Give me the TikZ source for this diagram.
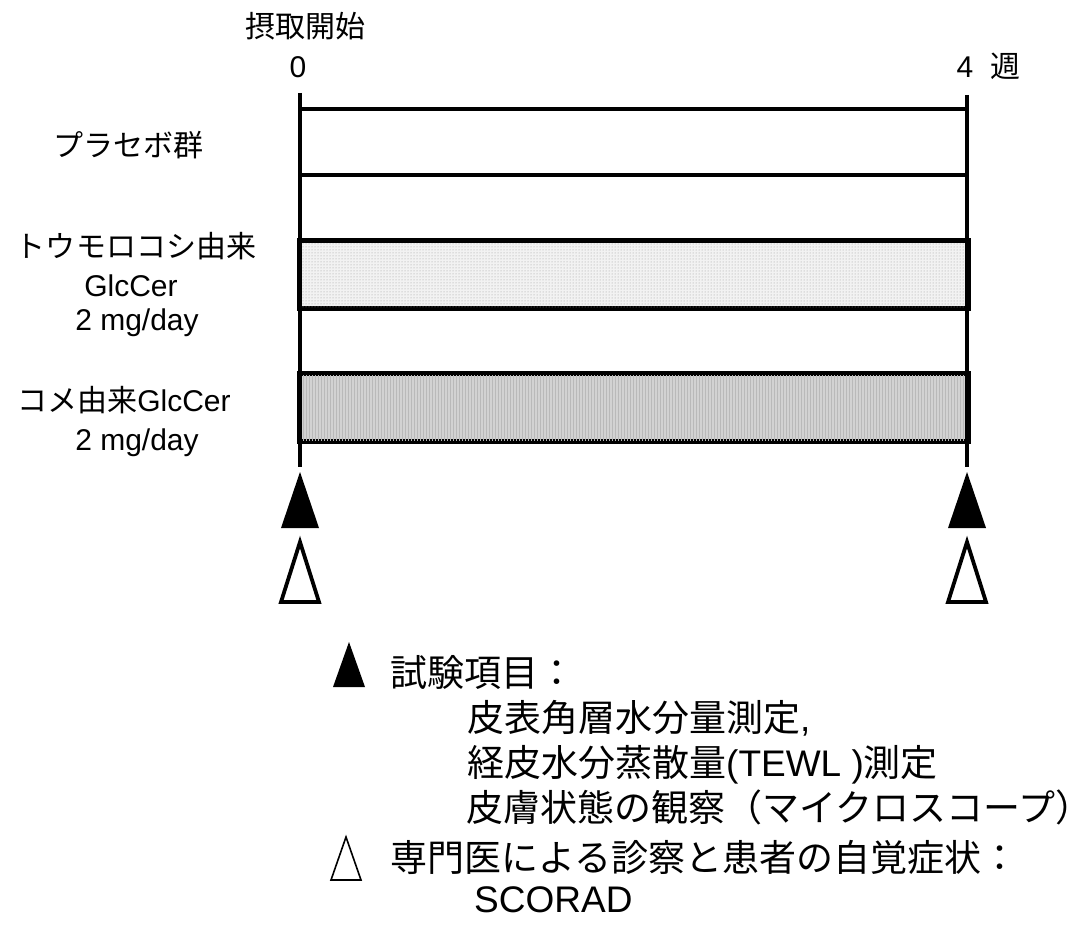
\documentclass[tikz,border=0pt]{standalone}
\usepackage{fontspec}
\setmainfont{Liberation Sans}
\newfontfamily\jpfont{Noto Sans CJK JP}
\newcommand\jtext[1]{{\jpfont #1}}
\usetikzlibrary{patterns}
\begin{document}
\begin{tikzpicture}[x=1pt,y=-1pt,
  lbl/.style={font=\fontsize{30}{37}\selectfont, inner sep=0pt, anchor=base},
  leg/.style={font=\fontsize{37}{44}\selectfont, inner sep=0pt, anchor=base west},
  barbox/.style={draw=black, line width=3.5pt, minimum width=667pt, minimum height=66pt, inner sep=0pt},
  timeline/.style={line width=4pt},
  filltri/.style={fill=black},
  opentri/.style={draw=black, line width=3.8pt, fill=white, line join=miter},
  legopen/.style={draw=black, line width=1.6pt, fill=white}]
\useasboundingbox (0,0) rectangle (1091,931);
% bars
\node[barbox, fill=white] (placebo) at (633.5,142) {};
\node[barbox, fill=gray!10] (corn) at (633.5,274.5) {};
\fill[pattern=dots, pattern color=gray!80] (corn.south west) rectangle (corn.north east);
\node[barbox, fill=gray!35] (rice) at (633.5,407.5) {};
\fill[pattern=vertical lines, pattern color=gray!55] (rice.south west) rectangle (rice.north east);
\draw[line width=3.5pt] (corn.north west) rectangle (corn.south east);
\draw[line width=3.5pt] (rice.north west) rectangle (rice.south east);
% time lines
\coordinate (s0) at (300,93);
\coordinate (e0) at (300,467);
\coordinate (s4) at (967,95);
\coordinate (e4) at (967,467);
\draw[timeline] (s0) -- (e0);
\draw[timeline] (s4) -- (e4);
% triangles on the time lines
\fill[filltri] (300,472) -- (281,528) -- (319,528) -- cycle;
\fill[filltri] (967,472) -- (948,528) -- (986,528) -- cycle;
\draw[opentri] (300,542) -- (281,602) -- (319,602) -- cycle;
\draw[opentri] (967,542) -- (948,602) -- (986,602) -- cycle;
% top labels
\node[lbl] (start) at (305,38) {\jtext{摂取開始}};
\node[lbl] (w0) at (298,78) {0};
\node[lbl] (w4) at (965,78) {4};
\node[lbl] (wk) at (1005,78) {\jtext{週}};
% group labels
\node[lbl] (gp) at (128,156) {\jtext{プラセボ群}};
\node[lbl] (gc1) at (136,257) {\jtext{トウモロコシ由来}};
\node[lbl] (gc2) at (131,296) {GlcCer};
\node[lbl] (gc3) at (137,330) {2 mg/day};
\node[lbl] (gr1) at (124,411) {\jtext{コメ由来}GlcCer};
\node[lbl] (gr2) at (137,450) {2 mg/day};
% legend
\fill[filltri] (349,642) -- (333,687) -- (365,687) -- cycle;
\node[leg] (l1) at (390,686) {\jtext{試験項目：}};
\node[leg] (l2) at (467,731) {\jtext{皮表角層水分量測定},};
\node[leg] (l3) at (467,776) {\jtext{経皮水分蒸散量}(TEWL )\jtext{測定}};
\node[leg] (l4) at (466,821) {\jtext{皮膚状態の観察（マイクロスコープ）}\kern-0.5em};
\draw[legopen] (346,837) -- (331,880) -- (361,880) -- cycle;
\node[leg] (l5) at (390,871) {\jtext{専門医による診察と患者の自覚症状：}};
\node[leg] (l6) at (474,912) {SCORAD};
\end{tikzpicture}
\end{document}
